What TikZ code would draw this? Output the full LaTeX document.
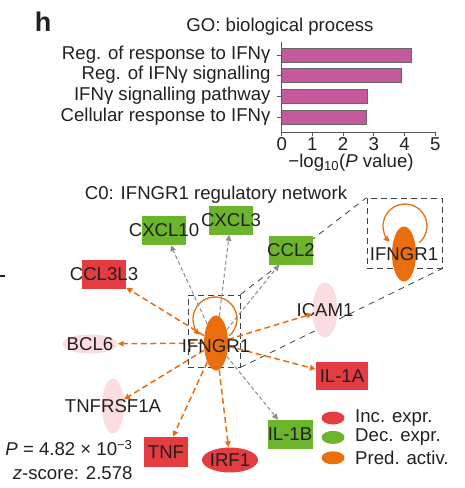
\documentclass[tikz,border=0pt]{standalone}
\usepackage{fontspec}
\setmainfont{Liberation Sans}
\usepackage{xcolor}
\definecolor{colorText}{HTML}{231F20}
\definecolor{colorInc}{HTML}{E33D42}
\definecolor{colorDec}{HTML}{6CB42C}
\definecolor{colorPred}{HTML}{EB6E0E}
\definecolor{colorFaint}{HTML}{FBDCE0}
\definecolor{colorBar}{HTML}{C45A9B}
\colorlet{colorLink}{black!45}
\colorlet{colorAxis}{black!65}
\usepackage{tikz}
\usetikzlibrary{arrows.meta, shapes.geometric, positioning}
\tikzset{
  box/.style={rectangle, inner sep=0pt, minimum width=44, minimum height=29},
  incbox/.style={box, fill=colorInc},
  decbox/.style={box, fill=colorDec},
  blob/.style={ellipse, inner sep=0pt},
  predblob/.style={blob, fill=colorPred, minimum width=24, minimum height=55},
  faintblob/.style={blob, fill=colorFaint},
  zoomframe/.style={rectangle, draw=black!75, dash pattern=on 6pt off 4pt, line width=0.8pt, inner sep=0pt},
  zoomline/.style={black!75, dash pattern=on 6pt off 5pt, line width=0.8pt},
  pred/.style={->, colorPred, dash pattern=on 6pt off 3.5pt, line width=1.5pt},
  link/.style={->, colorLink, dash pattern=on 4pt off 2.5pt, line width=1pt},
  selfloop/.style={->, colorPred, line width=1.3pt},
  bar/.style={fill=colorBar, draw=black!60, line width=0.6pt},
  axis/.style={colorAxis, line width=1pt}
}

\begin{document}
\begin{tikzpicture}[x=1pt, y=-1pt, >={Triangle[length=6pt, width=5.5pt]}, every node/.style={font=\fontsize{18.6}{24}\selectfont, text=colorText}]
\useasboundingbox (0,0) rectangle (464,488);
\node[font=\fontsize{27}{27}\selectfont\bfseries] (panel) at (43,22) {h};
\node (gotitle) at (280,27) {GO: biological process};
\foreach \v/\y/\lab in {4.23/55/Reg. of response to IFNγ, 3.89/75/Reg. of IFNγ signalling, 2.80/96/IFNγ signalling pathway, 2.74/117/Cellular response to IFNγ} {
  \draw[bar] (281.7,\y-7) rectangle ({281.7+30.7*\v},\y+7);
  \draw[axis] (277,\y) -- (281.7,\y);
  \node[anchor=east] at (274,\y) {\lab};
}
\draw[axis] (281.7,42) -- (281.7,132) -- (435.2,132);
\foreach \t in {0,...,5} {
  \draw[axis] ({281.7+30.7*\t},132) -- ++(0,4);
  \node[inner sep=0pt] (tick\t) at ({281.7+30.7*\t},144) {\t};
}
\node[inner sep=0pt] (xlabel) at (351,163) {−log\textsubscript{10}(\textit{P} value)};
\draw[colorText, line width=1.2pt] (0,276) -- (5,276);

\node (nettitle) at (216,195) {C0: IFNGR1 regulatory network};
\node[zoomframe, minimum width=52, minimum height=72] (smallframe) at (214,331) {};
\node[zoomframe, minimum width=75, minimum height=70] (bigframe) at (404.5,233) {};
\draw[zoomline] (smallframe.north east) -- (bigframe.north west);
\draw[zoomline] (smallframe.south east) -- (bigframe.south east);

\node[predblob] (zoomed) at (404,254) {};
\draw[selfloop] ([shift={(1,-28)}]zoomed.center) ++(50:22) arc[start angle=50, end angle=-226, radius=22];
\node (zoomedtext) at (zoomed.center) {IFNGR1};

\node[predblob] (ifngr1) at (216,343) {};
\draw[selfloop] ([shift={(-1,-24)}]ifngr1.center) ++(50:22) arc[start angle=50, end angle=-226, radius=22];

\node[decbox, label=center:CXCL10] (cxcl10) at (164,230.5) {};
\node[decbox, label=center:CXCL3] (cxcl3) at (231,220) {};
\node[decbox, label=center:CCL2] (ccl2) at (291,250) {};
\node[incbox, label=center:CCL3L3] (ccl3l3) at (104,274) {};
\node[faintblob, minimum width=25, minimum height=55, label=center:ICAM1] (icam1) at (325,310) {};
\node[faintblob, minimum width=55, minimum height=19, label=center:BCL6] (bcl6) at (90,344) {};
\node[faintblob, minimum width=22, minimum height=55, label=center:TNFRSF1A] (tnfrsf1a) at (113,406) {};
\node[incbox, minimum height=30, label=center:TNF] (tnf) at (166,452) {};
\node[blob, fill=colorInc, minimum width=56, minimum height=25, label=center:IRF1] (irf1) at (230,460) {};
\node[incbox, minimum width=52, minimum height=28, label=center:IL-1A] (il1a) at (342,376) {};
\node[decbox, minimum width=45, label=center:IL-1B] (il1b) at (290,434.5) {};

\draw [link] (ifngr1) edge (cxcl10);
\draw [link] (ifngr1) edge (cxcl3);
\draw [link] (ifngr1) edge (ccl2);
\draw [link] (ifngr1) edge (il1b);
\draw [pred] (ifngr1) edge (ccl3l3);
\draw [pred] (ifngr1) edge (bcl6);
\draw [pred] (ifngr1) edge (tnfrsf1a);
\draw [pred] (ifngr1) edge (tnf);
\draw [pred] (ifngr1) edge (irf1);
\draw [pred] (ifngr1) edge (il1a);
\draw [pred] (ifngr1) edge (icam1);
\node (ifngr1text) at (216,346) {IFNGR1};

\node[blob, fill=colorInc, minimum width=23, minimum height=13] (keyinc) at (333,418) {};
\node[blob, fill=colorDec, minimum width=23, minimum height=13, below=6pt of keyinc] (keydec) {};
\node[blob, fill=colorPred, minimum width=23, minimum height=13, below=7pt of keydec] (keypred) {};
\node[anchor=west, right=7pt of keyinc] {Inc. expr.};
\node[anchor=west, right=7pt of keydec] {Dec. expr.};
\node[anchor=west, right=7pt of keypred] {Pred. activ.};

\node[align=right, anchor=east] (pvalue) at (136,460) {\textit{P} = 4.82 × 10\textsuperscript{−3}\\\textit{z}-score: 2.578};
\end{tikzpicture}
\end{document}
